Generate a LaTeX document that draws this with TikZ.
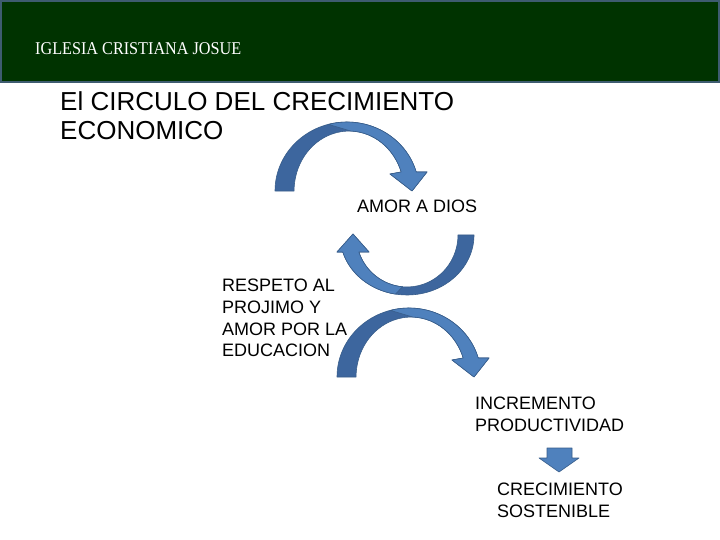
\documentclass[tikz,border=0pt]{standalone}
\usepackage{fontspec}
\setmainfont{Liberation Sans}
\newfontfamily\headfont{Liberation Serif}
\usetikzlibrary{arrows.meta,positioning}
\definecolor{hdgreen}{RGB}{0,51,0}
\definecolor{hdborder}{RGB}{62,92,112}
\definecolor{arrblue}{RGB}{79,129,189}
\definecolor{arrshade}{RGB}{61,102,158}
\definecolor{arrline}{RGB}{56,93,138}
\tikzset{
  lbl/.style={anchor=north west, inner sep=0pt, align=left,
              font=\fontsize{18bp}{21.7bp}\selectfont},
  arrback/.style={fill=arrshade, draw=arrline, line width=0.6bp, line join=round},
  arrfront/.style={fill=arrblue, draw=arrline, line width=0.6bp, line join=round},
}
\begin{document}
\begin{tikzpicture}[x=1bp, y=-1bp]
\useasboundingbox (0,0) rectangle (720,540);
\fill[white] (0,0) rectangle (720,540);

% Header bar
\draw[fill=hdgreen, draw=hdborder, line width=2bp] (1,1) rectangle (719,82);
\node[anchor=base west, inner sep=0pt, text=white,
      font=\headfont\fontsize{18bp}{20bp}\selectfont] (church) at (35,55)
      {\scalebox{0.9}[1]{IGLESIA CRISTIANA JOSUE}};

% Title
\node[lbl, font=\fontsize{26bp}{29bp}\selectfont] (title) at (60,91)
      {El CIRCULO DEL CRECIMIENTO\\ECONOMICO};

% Steps
\node[lbl] (dios) at (357,200) {AMOR A DIOS};
\node[lbl] (respeto) at (222,279) {RESPETO AL\\PROJIMO Y\\AMOR POR LA\\EDUCACION};
\node[lbl] (incremento) at (475,397) {INCREMENTO\\PRODUCTIVIDAD};
\node[lbl] (crecimiento) at (497,483) {CRECIMIENTO\\SOSTENIBLE};

% Curved arrows pointing down
\foreach \dx/\dy in {0/0, 62/186} {
  \begin{scope}[shift={(\dx,\dy)}]
    \draw[arrback] (275,191) arc[start angle=180, end angle=344, x radius=72, y radius=69]
          -- (427,172) -- (412,191) -- (390,174) -- (401.2,172)
          arc[start angle=341.5, end angle=180, x radius=55, y radius=60] -- cycle;
    \draw[arrfront] (328.4,124.4) arc[start angle=255, end angle=344, x radius=72, y radius=69]
          -- (427,172) -- (412,191) -- (390,174) -- (401.2,172)
          arc[start angle=341.5, end angle=272, x radius=55, y radius=60] -- cycle;
  \end{scope}
}

% Curved arrow pointing up
\draw[arrback] (474,235) arc[start angle=0, end angle=163.5, x radius=67, y radius=60]
      -- (337,252) -- (353,234) -- (369,252) -- (358.8,252)
      arc[start angle=160.9, end angle=0, x radius=51, y radius=52] -- cycle;
\draw[arrfront] (395.4,294.1) arc[start angle=100, end angle=163.5, x radius=67, y radius=60]
      -- (337,252) -- (353,234) -- (369,252) -- (358.8,252)
      arc[start angle=160.9, end angle=95, x radius=51, y radius=52] -- cycle;

% Block arrow
\draw[arrfront] (547,448) -- (572,448) -- (572,458) -- (579,458) -- (559,472)
      -- (539,458) -- (547,458) -- cycle;

\end{tikzpicture}
\end{document}
